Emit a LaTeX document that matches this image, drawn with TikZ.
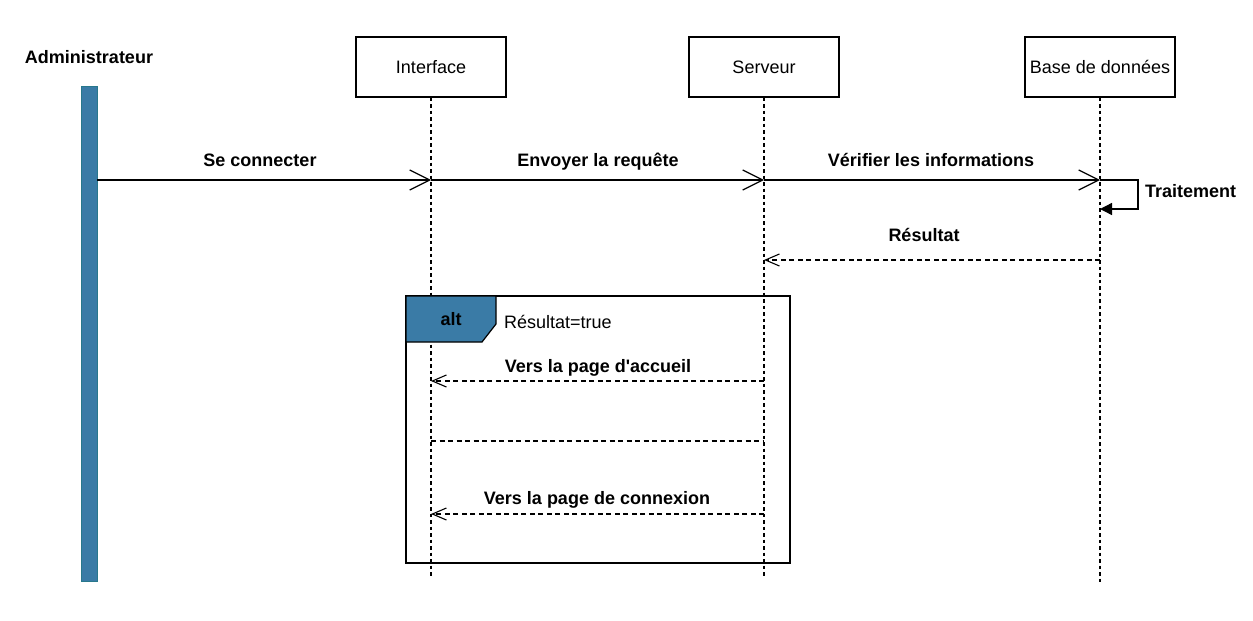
\documentclass[tikz,border=0pt]{standalone}
\usepackage{fontspec}
\setmainfont{Liberation Sans}
\usetikzlibrary{arrows.meta}
\definecolor{umlblue}{RGB}{58,123,166}
\definecolor{umlblueedge}{RGB}{40,120,140}
\tikzset{
  lbl/.style={font=\fontsize{18}{20}\selectfont\bfseries, inner sep=0pt, anchor=base},
  plain/.style={font=\fontsize{18}{20}\selectfont, inner sep=0pt, anchor=base west},
  partbox/.style={draw, line width=1.2pt, minimum width=150pt, minimum height=60pt, font=\fontsize{18}{20}\selectfont, inner sep=0pt},
  lifeline/.style={dash pattern=on 3.5pt off 3pt, line width=1.1pt},
  callmsg/.style={line width=1.2pt, -{Straight Barb[length=20pt,width=20pt,line width=1.2pt]}},
  retmsg/.style={line width=1.1pt, dash pattern=on 5pt off 3.5pt, -{Straight Barb[length=14pt,width=12pt,line width=1.1pt]}},
  selfmsg/.style={line width=1.4pt, -{Triangle[length=12pt,width=12pt]}},
}
\begin{document}
\begin{tikzpicture}[x=1pt,y=-1pt]
\useasboundingbox (0,0) rectangle (1253,621);
\fill[white] (0,0) rectangle (1253,621);

% actor
\node[lbl] (admin) at (89,63.5) {Administrateur};
\node[draw=umlblueedge, fill=umlblue, line width=0.8pt, minimum width=16pt, minimum height=495pt, inner sep=0pt] (bar) at (89,333.5) {};

% participants
\node[partbox] (iface) at (431,67) {Interface};
\node[partbox] (serv) at (764,67) {Serveur};
\node[partbox] (bdd) at (1100,67) {Base de données};

\coordinate (ifaceEnd) at (431,578);
\coordinate (servEnd) at (764,578);
\coordinate (bddEnd) at (1100,585);

\draw[lifeline] (iface.south) -- (ifaceEnd);
\draw[lifeline] (serv.south) -- (servEnd);
\draw[lifeline] (bdd.south) -- (bddEnd);

% message coordinates
\coordinate (a1) at (97,180);
\coordinate (i1) at (431,180);
\coordinate (s1) at (764,180);
\coordinate (b1) at (1100,180);
\coordinate (t1) at (1138,180);
\coordinate (t2) at (1138,209);
\coordinate (b2) at (1100,209);
\coordinate (b3) at (1100,260);
\coordinate (s3) at (764,260);
\coordinate (s4) at (764,381);
\coordinate (i4) at (431,381);
\coordinate (i5) at (431,441);
\coordinate (s5) at (764,441);
\coordinate (s6) at (764,514);
\coordinate (i6) at (431,514);

\draw[callmsg] (a1) -- (i1);
\draw[callmsg] (i1) -- (s1);
\draw[callmsg] (s1) -- (b1);
\draw[selfmsg] (b1) -- (t1) -- (t2) -- (b2);
\draw[retmsg] (b3) -- (s3);

\node[lbl] (m1) at (260,166.5) {Se connecter};
\node[lbl] (m2) at (598,166.5) {Envoyer la requête};
\node[lbl] (m3) at (931,166.5) {Vérifier les informations};
\node[lbl, anchor=base west] (m4) at (1145,197.5) {Traitement};
\node[lbl] (m5) at (924,241.5) {Résultat};

% alt frame
\node[draw, line width=1.2pt, minimum width=384pt, minimum height=267pt, inner sep=0pt] (frame) at (598,429.5) {};
\coordinate (f1) at (406,296);
\coordinate (f2) at (496,296);
\coordinate (f3) at (496,324);
\coordinate (f4) at (482,342);
\coordinate (f5) at (406,342);
\draw[fill=umlblue, line width=1.2pt] (f1) -- (f2) -- (f3) -- (f4) -- (f5) -- cycle;
\node[lbl] (alt) at (451,325.5) {alt};
\node[plain] (guard) at (504,328.5) {Résultat=true};

\draw[retmsg] (s4) -- (i4);
\node[lbl] (m6) at (598,372.5) {Vers la page d\textquotesingle accueil};
\draw[line width=1.1pt, dash pattern=on 5pt off 3.5pt] (i5) -- (s5);
\draw[retmsg] (s6) -- (i6);
\node[lbl] (m7) at (597,504.5) {Vers la page de connexion};
\end{tikzpicture}
\end{document}
